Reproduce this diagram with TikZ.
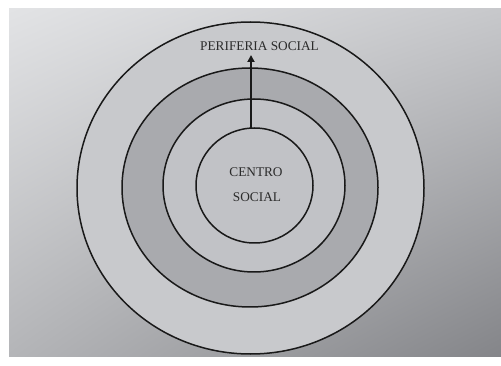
\documentclass[tikz,border=0pt]{standalone}
\usepackage{fontspec}
\setmainfont{Liberation Serif}
\usetikzlibrary{shapes.geometric,arrows.meta,shadings}
\definecolor{bgUL}{HTML}{E2E3E5}
\definecolor{bgUR}{HTML}{C7C8CB}
\definecolor{bgLL}{HTML}{B4B5B8}
\definecolor{bgLR}{HTML}{848589}
\definecolor{ringlight}{HTML}{C8C9CC}
\definecolor{ringdark}{HTML}{A9AAAE}
\definecolor{ringmid}{HTML}{C1C2C6}
\definecolor{txt}{HTML}{2B2B2B}
\tikzset{
  ring/.style={ellipse, draw=black!90, line width=1.5pt, inner sep=0pt},
  lbl/.style={text=txt, font=\fontsize{13.3}{15}\selectfont, anchor=base, inner sep=0pt},
  thickarrow/.style={line width=2.8pt, draw=black!90, -{Triangle[length=7pt,width=7pt]}, shorten <=0.7pt}
}
\begin{document}
\begin{tikzpicture}[x=1pt,y=-1pt]
\useasboundingbox (0,0) rectangle (501,366);
\shade[upper left=bgUL, upper right=bgUR, lower left=bgLL, lower right=bgLR] (9,9) rectangle (501,356);
\node[ring, fill=ringlight, minimum width=347pt, minimum height=332pt] (outer) at (250.5,188) {};
\node[ring, fill=ringdark, minimum width=256pt, minimum height=239pt] (second) at (250,187.5) {};
\node[ring, fill=ringmid, minimum width=182pt, minimum height=173pt] (third) at (254,185.5) {};
\node[ring, fill=ringmid, minimum width=117pt, minimum height=115pt] (inner) at (254.5,185.5) {};
\coordinate (a0) at (251,128.5);
\coordinate (a1) at (251,55);
\draw[thickarrow] (a0) -- (a1);
\node[lbl] (peri) at (259.5,51) {PERIFERIA SOCIAL};
\node[lbl] (centro) at (256,176.7) {CENTRO};
\node[lbl] (social) at (257,202) {SOCIAL};
\end{tikzpicture}
\end{document}
